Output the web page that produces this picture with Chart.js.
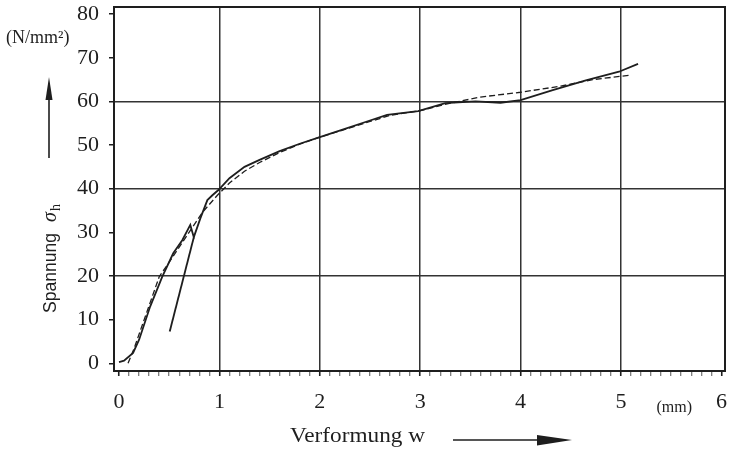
<!DOCTYPE html>
<html>
<head>
<meta charset="utf-8">
<script src="https://cdn.jsdelivr.net/npm/chart.js@4"></script>
<style>
  html, body { margin: 0; padding: 0; background: #fff; }
  #wrap { width: 731px; height: 453px; }
</style>
</head>
<body>
<div id="wrap"><canvas id="myChart" width="731" height="453"></canvas></div>
<script>
// Verformung w (mm) / Spannung (N/mm2)
const solidW = [0.0, 0.05, 0.14, 0.2, 0.31, 0.43, 0.54, 0.63, 0.71, 0.745, 0.81, 0.88, 0.93, 0.99, 1.1, 1.25, 1.4, 1.6, 1.8, 2.0, 2.25, 2.47, 2.67, 2.98, 3.25, 3.55, 3.8, 4.0, 4.32, 4.65, 4.98, 5.17];
const solidS = [0.3, 0.6, 2.4, 5.4, 13.0, 19.8, 25.2, 28.2, 31.7, 28.9, 33.2, 37.4, 38.5, 39.7, 42.4, 45.0, 46.6, 48.6, 50.3, 51.8, 53.7, 55.4, 56.9, 57.8, 59.6, 60.0, 59.7, 60.3, 62.6, 64.8, 66.8, 68.6];

// steep reloading line
const reloadW = [0.505, 0.745];
const reloadS = [7.3, 28.9];

const dashedW = [0.09, 0.15, 0.22, 0.31, 0.40, 0.535, 0.68, 0.835, 0.98, 1.1, 1.25, 1.4, 1.6, 1.8, 2.0, 2.25, 2.5, 2.7, 3.0, 3.28, 3.6, 4.0, 4.4, 4.72, 5.09];
const dashedS = [0.0, 3.4, 8.0, 13.9, 19.8, 24.4, 29.4, 34.7, 38.5, 41.3, 44.0, 46.0, 48.3, 50.2, 51.8, 53.6, 55.4, 56.8, 57.9, 59.5, 61.0, 62.1, 63.5, 65.0, 66.0];

const xGridAt = [1, 2, 3, 4, 5];
const yGridAt = [20, 40, 60];

function pts(xs, ys) {
  return xs.map((x, i) => ({ x: x, y: ys[i] }));
}

const ink = '#1e1e1e';
const serif = "'Liberation Serif', 'Times New Roman', serif";
const sans = "'Liberation Sans', Arial, sans-serif";

const labelsPlugin = {
  id: 'labels',
  afterDraw(chart) {
    const ctx = chart.ctx;
    const a = chart.chartArea;
    const xs = chart.scales.x;
    ctx.save();
    // frame
    ctx.strokeStyle = ink;
    ctx.lineWidth = 2;
    ctx.strokeRect(a.left, a.top, a.right - a.left, a.bottom - a.top);

    ctx.fillStyle = ink;
    // unit of the y axis
    ctx.font = '18px ' + serif;
    ctx.textAlign = 'left';
    ctx.textBaseline = 'alphabetic';
    ctx.fillText('(N/mm\u00B2)', 6, 43);

    // unit of the x axis, between 5 and 6
    ctx.font = '16px ' + serif;
    ctx.textAlign = 'center';
    ctx.fillText('(mm)', xs.getPixelForValue(5.53), 412);

    // arrow up
    ctx.lineWidth = 1.6;
    ctx.beginPath();
    ctx.moveTo(49, 158);
    ctx.lineTo(49, 96);
    ctx.stroke();
    ctx.beginPath();
    ctx.moveTo(49, 77);
    ctx.lineTo(52.5, 100);
    ctx.lineTo(45.5, 100);
    ctx.closePath();
    ctx.fill();

    // y title rotated
    ctx.save();
    ctx.translate(56, 313);
    ctx.rotate(-Math.PI / 2);
    ctx.textAlign = 'left';
    ctx.font = '18px ' + sans;
    const wS = ctx.measureText('Spannung').width;
    ctx.save();
    ctx.scale(80 / wS, 1);
    ctx.fillText('Spannung', 0, 0);
    ctx.restore();
    ctx.font = 'italic 20px ' + serif;
    ctx.fillText('\u03C3', 91, 0);
    ctx.font = '14px ' + serif;
    ctx.fillText('h', 102, 4);
    ctx.restore();

    // x title
    ctx.font = '22px ' + serif;
    ctx.textAlign = 'left';
    const wV = ctx.measureText('Verformung w').width;
    ctx.save();
    ctx.translate(290, 442);
    ctx.scale(135 / wV, 1);
    ctx.fillText('Verformung w', 0, 0);
    ctx.restore();

    // arrow right
    ctx.beginPath();
    ctx.moveTo(453, 440);
    ctx.lineTo(540, 440);
    ctx.stroke();
    ctx.beginPath();
    ctx.moveTo(572, 440);
    ctx.lineTo(537, 435);
    ctx.lineTo(537, 445.5);
    ctx.closePath();
    ctx.fill();
    ctx.restore();
  }
};

function isInt(v) {
  return Math.abs(v - Math.round(v)) < 1e-6;
}

new Chart(document.getElementById('myChart'), {
  type: 'line',
  data: {
    datasets: [
      {
        data: pts(solidW, solidS),
        borderColor: ink,
        borderWidth: 1.8,
        pointRadius: 0,
        tension: 0
      },
      {
        data: pts(reloadW, reloadS),
        borderColor: ink,
        borderWidth: 1.8,
        pointRadius: 0,
        tension: 0
      },
      {
        data: pts(dashedW, dashedS),
        borderColor: ink,
        borderWidth: 1.3,
        borderDash: [6, 3],
        pointRadius: 0,
        tension: 0
      }
    ]
  },
  options: {
    responsive: false,
    animation: false,
    events: [],
    layout: { padding: { left: 0, top: 7, right: 6, bottom: 0 } },
    plugins: {
      legend: { display: false },
      tooltip: { enabled: false }
    },
    scales: {
      x: {
        type: 'linear',
        min: -0.05,
        max: 6.036,
        afterFit(scale) {
          scale.height = 82;
          scale.paddingLeft = 0;
          scale.paddingRight = 0;
        },
        border: { display: true, color: ink, width: 2 },
        grid: {
          color: c => (c.tick && xGridAt.some(g => Math.abs(g - c.tick.value) < 1e-6)) ? '#333' : 'rgba(0,0,0,0)',
          lineWidth: 1.5,
          drawTicks: true,
          tickLength: 5,
          tickColor: c => (c.tick && isInt(c.tick.value)) ? ink : '#555',
          tickWidth: c => (c.tick && isInt(c.tick.value)) ? 1.6 : 1
        },
        ticks: {
          stepSize: 0.1,
          includeBounds: false,
          autoSkip: false,
          maxRotation: 0,
          padding: 13,
          color: ink,
          font: { family: serif, size: 22 },
          callback: v => isInt(v) ? String(Math.round(v)) : ''
        }
      },
      y: {
        type: 'linear',
        min: -1.76,
        max: 81.63,
        afterFit(scale) {
          scale.width = 114;
          scale.paddingTop = 0;
          scale.paddingBottom = 0;
        },
        border: { display: true, color: ink, width: 2 },
        grid: {
          color: c => (c.tick && yGridAt.indexOf(Math.round(c.tick.value)) >= 0 && isInt(c.tick.value)) ? '#333' : 'rgba(0,0,0,0)',
          lineWidth: 1.5,
          tickLength: 5,
          tickColor: ink,
          tickWidth: 1.5
        },
        ticks: {
          stepSize: 10,
          includeBounds: false,
          padding: 10,
          color: ink,
          font: { family: serif, size: 22 }
        }
      }
    }
  },
  plugins: [labelsPlugin]
});
</script>
</body>
</html>
